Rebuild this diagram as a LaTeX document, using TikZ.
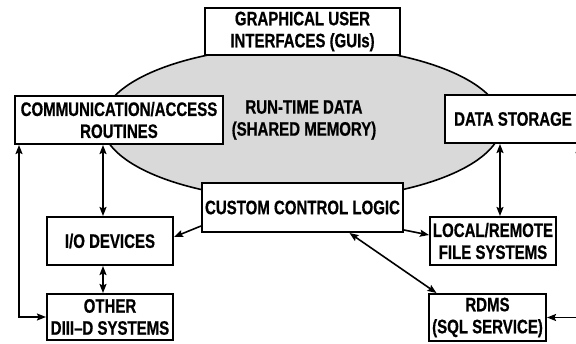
\documentclass[tikz,border=0pt]{standalone}
\usepackage{fontspec}
\setmainfont{Liberation Sans}[FakeStretch=0.77, FakeBold=0.6]
\usetikzlibrary{arrows.meta}

\tikzset{
  box/.style={draw=black, line width=2pt, fill=white, inner sep=0pt,
    align=center, font=\fontsize{19.5}{22}\selectfont\bfseries},
  lbl/.style={inner sep=0pt, align=center, font=\fontsize{19.5}{22}\selectfont\bfseries},
  link/.style={line width=1.6pt, draw=black},
  tip/.tip={Stealth[length=9pt,width=7pt,inset=1.5pt]},
  one/.style={link, -tip},
  two/.style={link, tip-tip}
}

\begin{document}
\begin{tikzpicture}[x=1pt, y=-1pt]
  \useasboundingbox (0,0) rectangle (576,343);

  % shared run-time data area
  \filldraw[fill=black!15, draw=black, line width=1.6pt]
    (302,123) ellipse [x radius=200, y radius=77];
  \node[lbl] (rtd) at (304,120) {RUN-TIME DATA\\(SHARED MEMORY)};

  % components
  \node[box, minimum width=195, minimum height=47] (gui) at (302.5,31.5)
    {GRAPHICAL USER\\INTERFACES (GUIs)};
  \node[box, minimum width=208, minimum height=48] (comm) at (119,120)
    {COMMUNICATION/ACCESS\\ROUTINES};
  \node[box, minimum width=136, minimum height=48] (ds) at (513,119)
    {DATA STORAGE};
  \node[box, minimum width=201, minimum height=49] (ccl) at (302.5,207.5)
    {CUSTOM CONTROL LOGIC};
  \node[box, minimum width=126, minimum height=48] (io) at (110,241)
    {I/O DEVICES};
  \node[box, minimum width=126, minimum height=46] (other) at (110,317)
    {OTHER\\DIII--D SYSTEMS};
  \node[box, minimum width=126, minimum height=48] (local) at (493,241)
    {LOCAL/REMOTE\\FILE SYSTEMS};
  \node[box, minimum width=117, minimum height=47] (rdms) at (487.5,317.5)
    {RDMS\\(SQL SERVICE)};

  % connectors
  \draw[two] ([xshift=5pt]comm.south west) |- (other.west);
  \draw[two] ([xshift=-7pt]io.north) -- ([xshift=-7pt]io.north |- comm.south);
  \draw[two] ([xshift=-7pt]io.south) -- ([xshift=-7pt]other.north);
  \draw[one] ([yshift=7pt]ccl.south west) -- ([yshift=4pt]io.east);
  \draw[one] ([yshift=3pt]ccl.south east) -- ([yshift=6pt]local.west);
  \draw[two] ([xshift=47pt]ccl.south) -- ([xshift=-51pt]rdms.north);
  \draw[two] ([xshift=-13pt]ds.south) -- ([xshift=-13pt]ds.south |- local.north);
  \coordinate (rbend) at ([xshift=66pt]ds.south |- rdms.east);
  \draw[two] ([xshift=66pt]ds.south) -- (rbend) -- (rdms.east);
\end{tikzpicture}
\end{document}
